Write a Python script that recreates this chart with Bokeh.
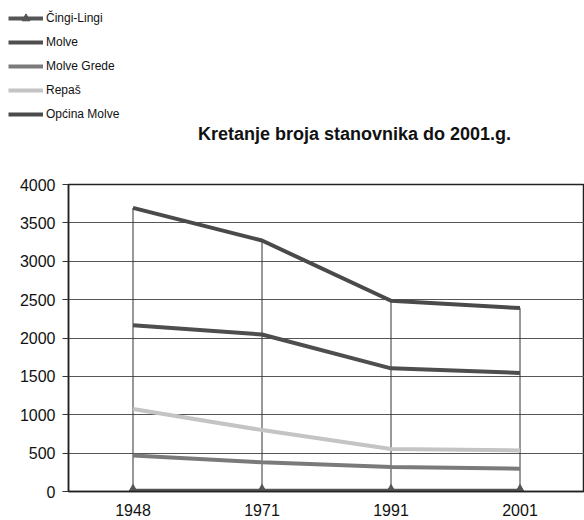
from bokeh.plotting import figure
from bokeh.models import Range1d, FactorRange, SingleIntervalTicker, Legend, LegendItem, Label
from bokeh.embed import file_html
from bokeh.resources import INLINE

years = ["1948", "1971", "1991", "2001"]
cingi_lingi = [10, 10, 10, 10]
molve = [2165, 2045, 1605, 1545]
molve_grede = [470, 380, 318, 298]
repas = [1075, 800, 555, 535]
opcina_molve = [3695, 3270, 2485, 2390]

series_names = ["Čingi-Lingi", "Molve", "Molve Grede", "Repaš", "Općina Molve"]
title_text = "Kretanje broja stanovnika do 2001.g."
FONT = "Liberation Sans"

C_CL, C_MOL, C_MG, C_REP, C_OP = "#555555", "#4e4e4e", "#7a7a7a", "#c4c4c4", "#4a4a4a"


def draw_series(fig, visible=True):
    r_rep = fig.line(years, repas, line_color=C_REP, line_width=4, visible=visible)
    r_mg = fig.line(years, molve_grede, line_color=C_MG, line_width=4, visible=visible)
    r_mol = fig.line(years, molve, line_color=C_MOL, line_width=4, visible=visible)
    r_op = fig.line(years, opcina_molve, line_color=C_OP, line_width=4, visible=visible)
    r_cl = fig.line(years, cingi_lingi, line_color=C_CL, line_width=4, visible=visible)
    r_clm = fig.scatter(years, cingi_lingi, marker="triangle", size=11,
                        fill_color=C_CL, line_color=C_CL, visible=visible)
    return [[r_cl, r_clm], [r_mol], [r_mg], [r_rep], [r_op]]


# ---- header: legend + title ----
top = figure(x_range=FactorRange(factors=years, range_padding=0),
             y_range=Range1d(-20000, -10000),
             width=584, height=172, output_backend="svg", toolbar_location=None,
             min_border_left=0, min_border_right=0, min_border_top=0,
             min_border_bottom=0, x_axis_type=None, y_axis_type=None)
top.outline_line_color = None
top.grid.grid_line_color = None
proxies = draw_series(top, visible=False)

legend = Legend(items=[LegendItem(label=n, renderers=r) for n, r in zip(series_names, proxies)],
                location=(8, 48))
legend.border_line_color = None
legend.background_fill_alpha = 0
legend.inactive_fill_alpha = 0
legend.padding = 0
legend.margin = 0
legend.spacing = 4
legend.glyph_width = 35
legend.glyph_height = 20
legend.label_height = 20
legend.label_standoff = 3
legend.label_text_font = FONT
legend.label_text_font_size = "12px"
legend.label_text_color = "#111111"
top.add_layout(legend, "center")

top.add_layout(Label(x=354, y=39, x_units="screen", y_units="screen",
                     text=title_text, text_font=FONT, text_font_style="bold",
                     text_font_size="18px", text_align="center",
                     text_baseline="middle", text_color="#111111"))

# ---- chart ----
p = figure(x_range=FactorRange(factors=years, range_padding=0),
           y_range=Range1d(0, 4000),
           width=584, height=348,
           output_backend="svg", toolbar_location=None,
           min_border_left=68, min_border_right=0,
           min_border_top=12, min_border_bottom=29)

p.background_fill_color = "white"
p.border_fill_color = "white"
p.outline_line_color = "#222222"
p.outline_line_width = 1.5

p.xgrid.grid_line_color = None
p.ygrid.grid_line_color = "#555555"
p.ygrid.grid_line_width = 1

p.yaxis.ticker = SingleIntervalTicker(interval=500)
p.yaxis.axis_line_color = "#222222"
p.yaxis.axis_line_width = 1.5
p.yaxis.major_tick_out = 6
p.yaxis.major_tick_in = 0
p.yaxis.minor_tick_line_color = None
p.yaxis.major_tick_line_color = "#333333"
p.yaxis.major_label_standoff = 7
p.yaxis.major_label_text_font = FONT
p.yaxis.major_label_text_font_size = "16px"
p.yaxis.major_label_text_color = "#111111"

p.xaxis.axis_line_color = "#222222"
p.xaxis.axis_line_width = 1.5
p.xaxis.major_tick_line_color = None
p.xaxis.major_tick_out = 0
p.xaxis.major_tick_in = 0
p.xaxis.major_label_standoff = 12
p.xaxis.major_label_text_font = FONT
p.xaxis.major_label_text_font_size = "16px"
p.xaxis.major_label_text_color = "#111111"

# drop lines from the top series to the axis
p.segment(x0=years, y0=[0] * len(years), x1=years, y1=opcina_molve,
          line_color="#333333", line_width=1)

draw_series(p)

open("out.html", "w").write(file_html([top, p], INLINE))
